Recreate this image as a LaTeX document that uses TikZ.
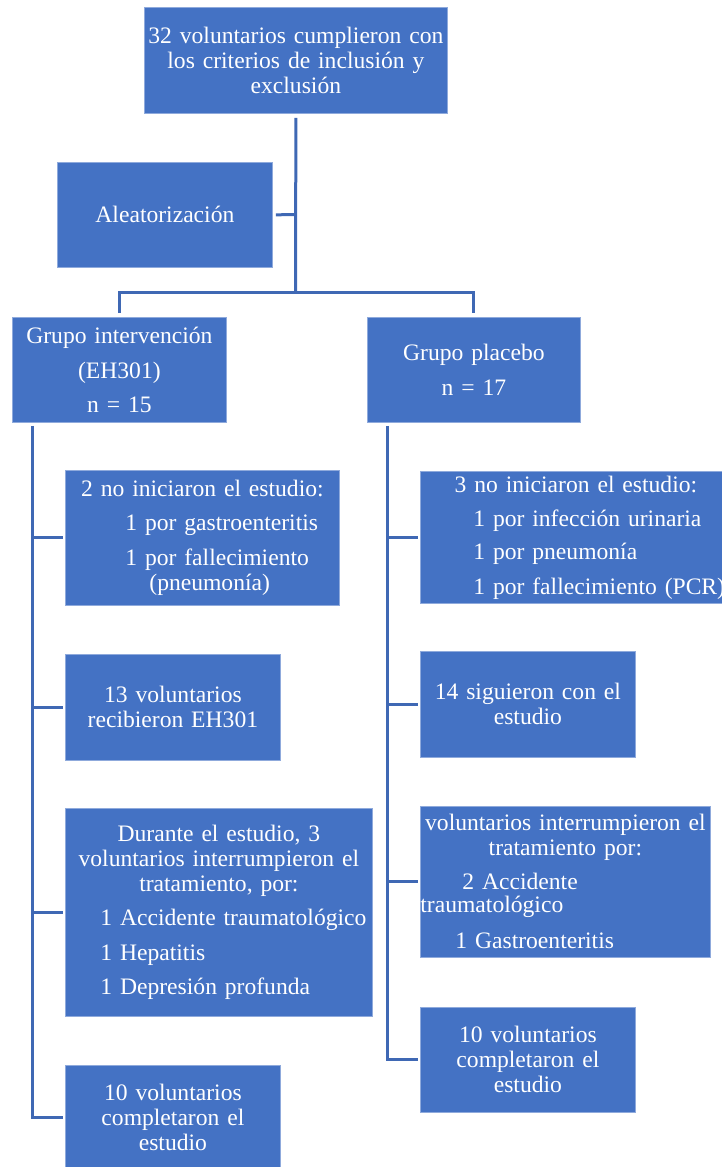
\documentclass[tikz,border=0pt]{standalone}
\usepackage{fontspec}
\setmainfont{Liberation Serif}
\definecolor{boxblue}{HTML}{4472C4}
\definecolor{linkblue}{HTML}{3F68B4}
\definecolor{rimblue}{HTML}{8FAADC}
% one full-width line, indented by #1
\newcommand\indline[2]{\makebox[\linewidth][l]{\hspace*{#1}#2}}
\begin{document}
\begin{tikzpicture}[x=1pt,y=-1pt,
  box/.style={fill=boxblue, draw=rimblue, line width=0.8pt, anchor=north west,
    inner sep=0pt, text=white, align=center,
    font=\fontsize{23.6}{25}\selectfont},
  link/.style={draw=linkblue, line width=3pt},
]
\useasboundingbox (0,0) rectangle (722,1167);

% header and randomisation
\node[box, minimum width=303pt, text width=303pt, minimum height=106pt] (top) at (144,7)
  {32 voluntarios cumplieron con\\los criterios de inclusión y\\exclusión};
\node[box, minimum width=215pt, text width=215pt, minimum height=105pt] (alea) at (57,162)
  {Aleatorización};

% the two arms
\node[box, minimum width=214pt, text width=214pt, minimum height=105pt] (gi) at (12,317)
  {Grupo intervención\\[10pt](EH301)\\[9pt]n = 15};
\node[box, minimum width=213pt, text width=213pt, minimum height=105pt] (gp) at (367,317)
  {Grupo placebo\\[10pt]n = 17};

% intervention arm
\node[box, minimum width=274pt, text width=274pt, minimum height=135pt] (b1) at (65,470)
  {2 no iniciaron el estudio:\\[9pt]\indline{60pt}{1 por gastroenteritis}\\[10pt]%
   \indline{60pt}{1 por fallecimiento}\\\indline{84pt}{(pneumonía)}};
\node[box, minimum width=215pt, text width=215pt, minimum height=106pt] (b2) at (65,654)
  {13 voluntarios\\recibieron EH301};
\node[box, minimum width=307pt, text width=307pt, minimum height=208pt] (b3) at (65,808)
  {Durante el estudio, 3\\voluntarios interrumpieron el\\tratamiento, por:\\[9pt]%
   \indline{35pt}{1 Accidente traumatológico}\\[10pt]\indline{35pt}{1 Hepatitis}\\[9pt]%
   \indline{35pt}{1 Depresión profunda}};
\node[box, minimum width=215pt, text width=215pt, minimum height=105pt] (b4) at (65,1065)
  {10 voluntarios\\completaron el\\estudio};

% placebo arm
\node[box, minimum width=311pt, text width=311pt, minimum height=132pt] (c1) at (420,471)
  {3 no iniciaron el estudio:\\[9pt]\indline{53pt}{1 por infección urinaria}\\[8pt]%
   \indline{53pt}{1 por pneumonía}\\[10pt]\indline{53pt}{1 por fallecimiento (PCR)}};
\node[box, minimum width=215pt, text width=215pt, minimum height=106pt] (c2) at (420,651)
  {14 siguieron con el\\estudio};
\node[box, minimum width=290pt, text width=290pt, minimum height=151pt] (c3) at (420,806)
  {voluntarios interrumpieron el\\tratamiento por:\\[9pt]\indline{42pt}{2 Accidente}\\[-2pt]%
   \indline{0pt}{traumatológico}\\[11pt]\indline{35pt}{1 Gastroenteritis}};
\node[box, minimum width=215pt, text width=215pt, minimum height=105pt] (c4) at (420,1007)
  {10 voluntarios\\completaron el\\estudio};

% junctions of the upper tree
\coordinate (j0) at (295.5,214.5);
\coordinate (j1) at (295.5,292);
\coordinate (lt) at ([xshift=20pt]gi.south west);
\coordinate (rt) at ([xshift=20pt]gp.south west);

% upper tree
\draw[link, shorten <=4pt] (top.south) -- (j1);
\draw[link, shorten <=3pt] (alea.east) -- (j0);
\draw[link, shorten <=4pt, shorten >=4pt] (gi.north) |- (j1) -| (gp.north);

% intervention trunk and branches
\draw[link, shorten <=3pt, shorten >=2pt] (lt) |- (b4.west);
\draw[link, shorten >=2pt] (lt |- b1.west) -- (b1.west);
\draw[link, shorten >=2pt] (lt |- b2.west) -- (b2.west);
\draw[link, shorten >=2pt] (lt |- b3.west) -- (b3.west);

% placebo trunk and branches
\draw[link, shorten <=3pt, shorten >=2pt] (rt) |- (c4.west);
\draw[link, shorten >=2pt] (rt |- c1.west) -- (c1.west);
\draw[link, shorten >=2pt] (rt |- c2.west) -- (c2.west);
\draw[link, shorten >=2pt] (rt |- c3.west) -- (c3.west);
\end{tikzpicture}
\end{document}
